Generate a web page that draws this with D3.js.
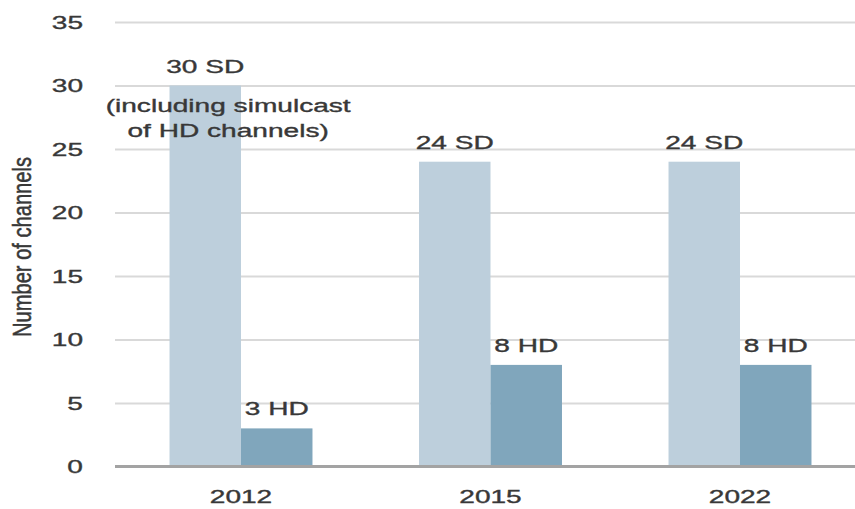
<!DOCTYPE html>
<html>
<head>
<meta charset="utf-8">
<script src="https://cdn.jsdelivr.net/npm/d3@7"></script>
<style>
  body { margin: 0; background: #fff; }
  text { font-family: "Liberation Sans", Arial, sans-serif; fill: #383838; stroke: #383838; stroke-width: 0.35px; }
</style>
</head>
<body>
<div id="chart"></div>
<script>
// data
const years = ["2012", "2015", "2022"];
const sdValues = [30, 24, 24];
const hdValues = [3, 8, 8];
const sdLabels = ["30 SD", "24 SD", "24 SD"];
const hdLabels = ["3 HD", "8 HD", "8 HD"];
const noteLines = ["(including simulcast", "of HD channels)"];
const yTicks = [0, 5, 10, 15, 20, 25, 30, 35];

const W = 855, H = 509;
const sx = 1.56;   // the original text is stretched sideways
const fs = "18px";

let svg = d3.select("#chart").append("svg")
  .attr("width", W).attr("height", H);

let y = d3.scaleLinear().domain([0, 35]).range([466.5, 22]);

let x = d3.scaleBand()
  .domain(years)
  .range([116.25, 864.75])
  .paddingInner(0.427)
  .paddingOuter(0.2135);

let sub = d3.scaleBand()
  .domain(["SD", "HD"])
  .range([0, x.bandwidth()]);

// gridlines + y tick labels
let yAxis = svg.append("g")
  .attr("transform", "translate(115,0)")
  .call(d3.axisLeft(y).tickValues(yTicks).tickSizeInner(-740).tickSizeOuter(0));
yAxis.select(".domain").remove();
yAxis.selectAll(".tick line")
  .attr("stroke", "#d9d9d9").attr("stroke-width", 2);
yAxis.selectAll(".tick text")
  .attr("x", null)
  .attr("dy", "0.36em")
  .attr("transform", "translate(-32,0) scale(" + sx + ",1)")
  .style("font-size", fs)
  .style("font-family", "'Liberation Sans', Arial, sans-serif");

// bars
let groups = years.map(function(yr, i) {
  return {year: yr, sd: sdValues[i], hd: hdValues[i], sdLab: sdLabels[i], hdLab: hdLabels[i]};
});

let g = svg.selectAll(".grp")
  .data(groups).enter()
  .append("g")
  .attr("transform", function(d) { return "translate(" + x(d.year) + ",0)"; });

g.append("rect")
  .attr("x", sub("SD")).attr("width", sub.bandwidth())
  .attr("y", function(d) { return y(d.sd); })
  .attr("height", function(d) { return y(0) - y(d.sd); })
  .style("fill", "#bdcfdc");

g.append("rect")
  .attr("x", sub("HD")).attr("width", sub.bandwidth())
  .attr("y", function(d) { return y(d.hd); })
  .attr("height", function(d) { return y(0) - y(d.hd); })
  .style("fill", "#80a6bc");

// value labels
g.append("text")
  .attr("transform", function(d) {
    return "translate(" + (sub("SD") + sub.bandwidth() / 2) + "," + (y(d.sd) - 13) + ") scale(" + sx + ",1)";
  })
  .style("text-anchor", "middle").style("font-size", fs)
  .text(function(d) { return d.sdLab; });

g.append("text")
  .attr("transform", function(d) {
    return "translate(" + (sub("HD") + sub.bandwidth() / 2) + "," + (y(d.hd) - 13) + ") scale(" + sx + ",1)";
  })
  .style("text-anchor", "middle").style("font-size", fs)
  .text(function(d) { return d.hdLab; });

// note under the 2012 SD label
noteLines.forEach(function(line, i) {
  svg.append("text")
    .attr("transform", "translate(" + (x("2012") + sub.bandwidth() * 0.82) + "," + (y(30) + 26 + i * 25) + ") scale(" + sx + ",1)")
    .style("text-anchor", "middle").style("font-size", fs)
    .text(line);
});

// baseline
svg.append("line")
  .attr("x1", 115).attr("x2", W)
  .attr("y1", y(0)).attr("y2", y(0))
  .attr("stroke", "#a3a3a3").attr("stroke-width", 3);

// year labels
svg.selectAll(".yr")
  .data(years).enter()
  .append("text")
  .attr("transform", function(d) { return "translate(" + (x(d) + x.bandwidth() / 2) + ",503) scale(" + sx + ",1)"; })
  .style("text-anchor", "middle").style("font-size", fs)
  .text(function(d) { return d; });

// y axis title
svg.append("text")
  .attr("transform", "translate(31,247) scale(" + sx + ",1) rotate(-90)")
  .style("text-anchor", "middle").style("font-size", "16px")
  .attr("textLength", 180).attr("lengthAdjust", "spacingAndGlyphs")
  .text("Number of channels");
</script>
</body>
</html>
